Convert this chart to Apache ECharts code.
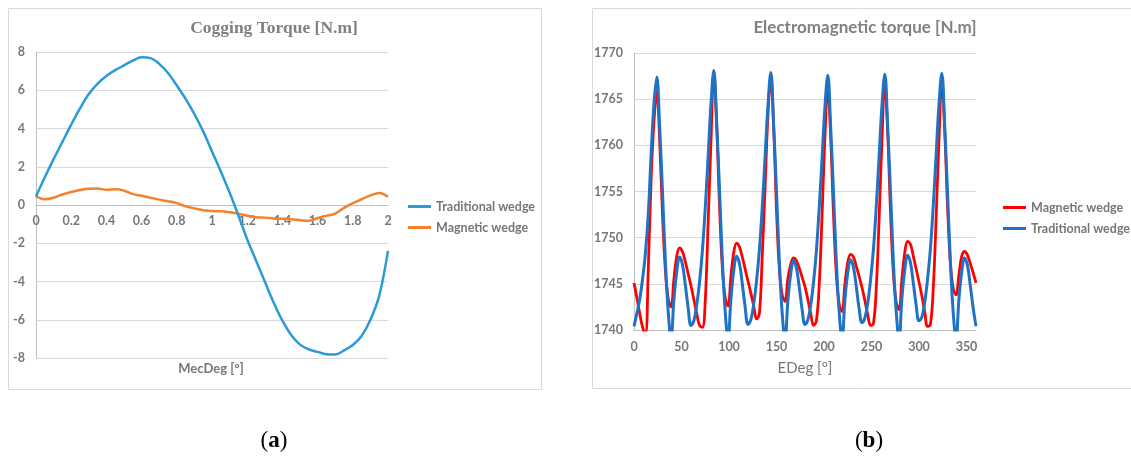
<!DOCTYPE html>
<html><head><meta charset="utf-8">
<script src="https://cdn.jsdelivr.net/npm/echarts@6/dist/echarts.min.js"></script>
<style>
html,body{margin:0;padding:0;background:#fff;width:1131px;height:459px;overflow:hidden}
#a{position:absolute;left:0;top:0;width:566px;height:459px}
#b{position:absolute;left:566px;top:0;width:565px;height:459px}
</style>
</head><body><div id="a"></div><div id="b"></div>
<script>
// ---- (a) Cogging torque ----
const mecDeg = [0,0.05,0.1,0.15,0.2,0.25,0.3,0.35,0.4,0.45,0.5,0.55,0.6,0.65,0.7,0.75,0.8,0.85,0.9,0.95,1,1.05,1.1,1.15,1.2,1.25,1.3,1.35,1.4,1.45,1.5,1.55,1.6,1.65,1.7,1.75,1.8,1.85,1.9,1.95,2];
const cogTraditional = [0.45,1.45,2.4,3.3,4.2,5.05,5.8,6.35,6.75,7.05,7.3,7.55,7.72,7.68,7.38,6.9,6.25,5.55,4.75,3.85,2.8,1.75,0.65,-0.55,-1.8,-2.9,-4.0,-5.1,-6.05,-6.8,-7.3,-7.55,-7.68,-7.8,-7.82,-7.6,-7.32,-6.85,-6.0,-4.75,-2.4];
const cogMagnetic = [0.45,0.3,0.38,0.55,0.68,0.78,0.85,0.86,0.8,0.82,0.75,0.57,0.48,0.38,0.28,0.2,0.1,-0.07,-0.18,-0.27,-0.32,-0.33,-0.38,-0.45,-0.56,-0.64,-0.66,-0.7,-0.72,-0.74,-0.8,-0.83,-0.68,-0.57,-0.45,-0.15,0.1,0.3,0.5,0.63,0.43];

// ---- (b) Electromagnetic torque ----
const eDeg = [0,3,6,9,12,15,18,21,24,27,30,33,36,39,42,45,48,51,54,57,60,63,66,69,72,75,78,81,84,87,90,93,96,99,102,105,108,111,114,117,120,123,126,129,132,135,138,141,144,147,150,153,156,159,162,165,168,171,174,177,180,183,186,189,192,195,198,201,204,207,210,213,216,219,222,225,228,231,234,237,240,243,246,249,252,255,258,261,264,267,270,273,276,279,282,285,288,291,294,297,300,303,306,309,312,315,318,321,324,327,330,333,336,339,342,345,348,351,354,357,360];
const emMagnetic = [1745.1,1743.5,1741.8,1740.3,1739.5,1746.5,1756.3,1762.5,1765.8,1760.5,1752.5,1746.5,1743.4,1742.5,1745.5,1748,1748.9,1748.5,1747.4,1746.1,1744.8,
1743.3,1741.8,1740.5,1740.3,1743.2,1751.5,1760.3,1767.8,1762.3,1753.5,1746.7,1743.5,1742.6,1745.8,1748.4,1749.4,1749,1747.9,1746.6,1745.3,
1744,1742.6,1741.2,1741.8,1748,1755.5,1763.3,1767.2,1762,1753,1746.6,1743.8,1743.1,1745.6,1747.1,1747.8,1747.5,1746.7,1745.7,1744.7,
1743.3,1741.8,1740.5,1741,1745,1752.5,1761,1766.2,1761,1752.5,1746,1742.8,1742,1745,1747.3,1748.2,1747.9,1746.9,1745.8,1744.6,
1743.2,1741.7,1740.5,1740.7,1744.5,1752,1760.5,1766.8,1761.5,1752.8,1746.2,1743,1742.2,1745.5,1748.4,1749.6,1749.3,1748,1746.6,1745.2,
1743.7,1742,1740.4,1740.6,1744.5,1752,1760.5,1767,1761.8,1753.5,1747.3,1744.5,1743.8,1746,1748,1748.5,1748.1,1747.2,1746.2,1745.1];
const emTraditional = [1740.4,1741.8,1743.3,1745.5,1748.3,1752.5,1759,1764.5,1767.4,1762,1755,1747.5,1742,1739,1743.3,1746.3,1747.9,1747.1,1744.9,1742.4,1740.5,
1741,1742.7,1745.2,1748.6,1753.2,1758.7,1764.4,1768.1,1762.5,1755.2,1747.6,1742,1739,1743.3,1746.4,1748.0,1747.2,1745,1742.5,1740.6,
1741.1,1742.8,1745.3,1748.7,1753.3,1758.8,1764.3,1767.9,1762.2,1755,1747.4,1741.8,1739,1743.2,1746.1,1747.5,1746.7,1744.6,1742.2,1740.6,
1741.1,1742.7,1745.2,1748.6,1753.3,1758.7,1764.2,1767.6,1762,1754.9,1747.4,1741.9,1739,1743.2,1746.2,1747.6,1746.8,1744.7,1742.3,1740.8,
1741.3,1742.9,1745.4,1748.7,1753.3,1758.8,1764.3,1767.7,1762.1,1755,1747.5,1742,1739,1743.4,1746.5,1748.1,1747.3,1745.1,1742.7,1741,
1741.4,1743,1745.5,1748.8,1753.4,1758.9,1764.4,1767.8,1762.2,1755,1747.5,1741.9,1739,1743.3,1746.3,1747.8,1747,1744.8,1742.4,1740.4];

const GRAY = '#777777';
const LBL = {fontFamily:'Lato', fontWeight:'bold', fontSize:12.5, color:GRAY};

function txt(x, y, text, font, fill) {
  return {type:'text', x:x, y:y, silent:true, z:10,
    style:{text:text, font:font, fill:fill, align:'center', verticalAlign:'middle', textAlign:'center', textVerticalAlign:'middle'}};
}
function caption(x, y, letter) {
  return {type:'text', x:x, y:y, silent:true, z:10,
    style:{text:'{n|(}{b|'+letter+'}{n|)}', align:'center', verticalAlign:'middle', textAlign:'center', textVerticalAlign:'middle',
      rich:{n:{fontFamily:'Liberation Serif', fontSize:23, fill:'#000', color:'#000'},
            b:{fontFamily:'Liberation Serif', fontSize:23, fontWeight:'bold', fill:'#000', color:'#000'}}}};
}

const chartA = echarts.init(document.getElementById('a'));
chartA.setOption({
  animation:false,
  graphic:[
    {type:'rect', silent:true, z:0, shape:{x:8.5,y:8.5,width:533,height:381}, style:{fill:'#fff', stroke:'#d9d9d9', lineWidth:1}},
    txt(274, 28, 'Cogging Torque [N.m]', 'bold 17.5px "Liberation Serif"', '#808080'),
    txt(211, 369, 'MecDeg [°]', 'bold 13px Lato', GRAY),
    caption(274, 441, 'a')
  ],
  legend:{orient:'vertical', left:403, top:195, itemWidth:23, itemHeight:3, icon:'rect', itemGap:8,
    textStyle:{fontFamily:'Lato', fontWeight:'bold', fontSize:12.5, color:GRAY},
    data:['Traditional wedge','Magnetic wedge']},
  grid:{left:36, right:178, top:52, bottom:101},
  xAxis:{type:'value', min:0, max:2, interval:0.2, position:'bottom', offset:-153,
    axisLine:{onZero:false, lineStyle:{color:'#bfbfbf', width:1}}, axisTick:{show:false}, splitLine:{show:false},
    axisLabel:Object.assign({margin:9}, LBL)},
  yAxis:{type:'value', min:-8, max:8, interval:2,
    axisLine:{show:true, lineStyle:{color:'#bfbfbf'}}, axisTick:{show:false},
    splitLine:{lineStyle:{color:'#d9d9d9'}}, axisLabel:Object.assign({margin:11}, LBL)},
  series:[
    {type:'line', name:'Traditional wedge', data:mecDeg.map((x,i)=>[x,cogTraditional[i]]), smooth:0.35, symbol:'none',
      lineStyle:{width:2.5, color:'#2b9bd8'}, itemStyle:{color:'#2b9bd8'}, z:3},
    {type:'line', name:'Magnetic wedge', data:mecDeg.map((x,i)=>[x,cogMagnetic[i]]), smooth:0.35, symbol:'none',
      lineStyle:{width:2.5, color:'#f4812c'}, itemStyle:{color:'#f4812c'}, z:2}
  ]
});

const chartB = echarts.init(document.getElementById('b'));
chartB.setOption({
  animation:false,
  graphic:[
    {type:'rect', silent:true, z:0, shape:{x:26.5,y:8.5,width:600,height:380}, style:{fill:'#fff', stroke:'#d9d9d9', lineWidth:1}},
    txt(299, 28, 'Electromagnetic torque [N.m]', 'bold 17px Lato', '#808080'),
    txt(239, 368, 'EDeg [°]', '15px Lato', GRAY),
    caption(303, 441, 'b')
  ],
  legend:{orient:'vertical', left:432, top:196, itemWidth:23, itemHeight:3, icon:'rect', itemGap:8,
    textStyle:{fontFamily:'Lato', fontWeight:'bold', fontSize:12.5, color:GRAY},
    data:['Magnetic wedge','Traditional wedge']},
  grid:{left:68, right:155, top:53, bottom:129},
  xAxis:{type:'value', min:0, max:360, interval:50,
    axisLine:{lineStyle:{color:'#bfbfbf'}}, axisTick:{show:false}, splitLine:{show:false},
    axisLabel:Object.assign({margin:10, showMaxLabel:false}, LBL)},
  yAxis:{type:'value', min:1740, max:1770, interval:5,
    axisLine:{show:true, lineStyle:{color:'#bfbfbf'}}, axisTick:{show:false},
    splitLine:{lineStyle:{color:'#d9d9d9'}}, axisLabel:Object.assign({margin:11, formatter:v=>String(v)}, LBL)},
  series:[
    {type:'line', name:'Magnetic wedge', data:eDeg.map((x,i)=>[x,emMagnetic[i]]), smooth:0.4, symbol:'none', clip:true,
      lineStyle:{width:2.8, color:'#ff0000'}, itemStyle:{color:'#ff0000'}, z:2},
    {type:'line', name:'Traditional wedge', data:eDeg.map((x,i)=>[x,emTraditional[i]]), smooth:0.4, symbol:'none', clip:true,
      lineStyle:{width:3, color:'#1f72c4'}, itemStyle:{color:'#1f72c4'}, z:3}
  ]
});
</script></body></html>
